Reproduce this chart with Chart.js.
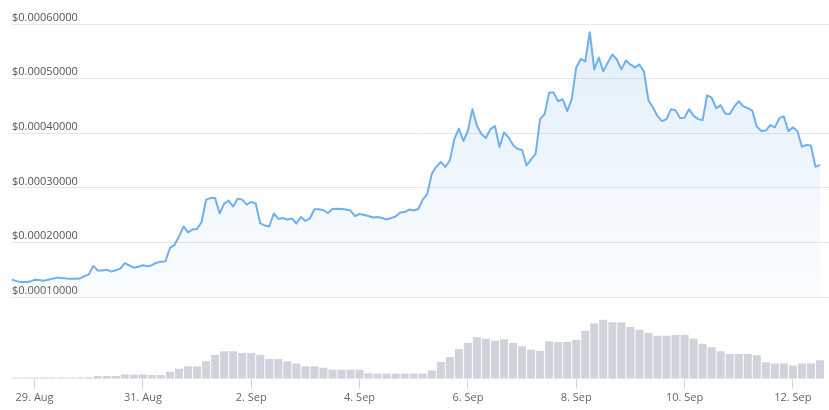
<!DOCTYPE html>
<html>
<head>
<meta charset="utf-8">
<script src="https://cdn.jsdelivr.net/npm/chart.js@4.4.1/dist/chart.umd.min.js"></script>
<style>
  html, body { margin: 0; padding: 0; background: #fff; }
  #wrap { width: 829px; height: 410px; position: relative; }
</style>
</head>
<body>
<div id="wrap"><canvas id="chart"></canvas></div>
<script>
// time is in hours since 29 Aug 00:00
const priceStart = -10;
const priceStep = 2;
// price in units of 0.00001 USD, one reading every 2 hours
const price = [
  13.20, 12.96, 12.78, 12.78, 12.87, 13.20, 13.15, 13.02, 13.20, 13.38,
  13.60, 13.55, 13.45, 13.38, 13.38, 13.42, 13.87, 14.15, 15.75, 14.91,
  14.91, 15.05, 14.69, 14.96, 15.24, 16.24, 15.82, 15.42, 15.60, 15.87,
  15.69, 15.87, 16.33, 16.51, 16.60, 19.05, 19.60, 21.15, 22.96, 21.87,
  22.42, 22.51, 23.78, 27.87, 28.15, 28.18, 25.33, 27.15, 27.69, 26.60,
  28.05, 27.87, 26.96, 27.45, 27.15, 23.51, 23.15, 22.96, 25.33, 24.33,
  24.51, 24.24, 24.42, 23.51, 24.69, 23.96, 24.42, 26.11, 26.11, 25.93,
  25.42, 26.15, 26.18, 26.15, 26.05, 25.87, 24.87, 25.24, 25.05, 24.87,
  24.60, 24.69, 24.51, 24.24, 24.51, 24.78, 25.51, 25.60, 26.05, 25.87,
  26.15, 27.87, 28.87, 32.60, 33.87, 34.78, 33.87, 35.02, 38.96, 40.87,
  38.60, 40.42, 44.42, 41.38, 39.87, 39.15, 40.78, 41.33, 37.51, 40.15,
  39.27, 37.87, 37.15, 36.96, 34.11, 35.24, 36.24, 42.60, 43.51, 47.45,
  47.45, 45.87, 46.24, 44.05, 46.24, 52.05, 53.60, 53.15, 58.51, 51.69,
  53.87, 51.33, 52.96, 54.42, 53.51, 51.69, 53.33, 52.60, 52.05, 52.60,
  51.33, 46.05, 44.73, 43.15, 42.24, 42.60, 44.42, 44.24, 42.78, 42.87,
  44.42, 43.24, 42.60, 42.42, 46.96, 46.51, 44.60, 45.15, 43.64, 43.51,
  44.87, 45.87, 44.96, 44.60, 44.15, 41.24, 40.42, 40.51, 41.51, 41.09,
  42.78, 43.09, 40.42, 41.09, 40.42, 37.56, 37.87, 37.78, 33.87, 34.24
];

const volumeStart = -8;
const volumeStep = 4;
// relative traded volume, one bar every 4 hours
const volume = [
  1.3, 1.3, 1.3, 1.3, 1.3, 1.3, 1.3, 1.3, 1.5, 2.7,
  2.7, 2.7, 4.3, 4.3, 4.3, 3.8, 3.8, 7.0, 10.0, 12.7,
  12.7, 17.7, 24.0, 27.7, 27.7, 26.0, 26.0, 24.0, 20.0, 20.0,
  17.7, 15.3, 12.7, 12.7, 11.0, 9.0, 9.0, 9.0, 9.0, 5.5,
  5.0, 5.0, 5.0, 5.0, 5.0, 5.0, 8.3, 17.0, 22.0, 30.0,
  36.0, 41.7, 40.3, 38.3, 39.7, 36.0, 32.7, 29.3, 28.0, 37.7,
  37.0, 37.0, 39.3, 48.3, 56.0, 59.3, 57.0, 57.0, 52.0, 49.3,
  46.0, 43.3, 43.3, 44.3, 44.3, 40.3, 35.3, 31.7, 27.7, 25.0,
  25.0, 25.0, 23.7, 16.7, 15.3, 15.3, 13.3, 15.3, 15.3, 18.7
];

const xTickHours = [0, 48, 96, 144, 192, 240, 288, 336];
const xTickLabels = ['29. Aug', '31. Aug', '2. Sep', '4. Sep', '6. Sep', '8. Sep', '10. Sep', '12. Sep'];
const yTicks = [0.0001, 0.0002, 0.0003, 0.0004, 0.0005, 0.0006];

const priceData = price.map((p, i) => ({ x: priceStart + i * priceStep, y: p * 1e-5 }));
const volumeData = volume.map((v, i) => ({ x: volumeStart + i * volumeStep, y: v }));

const ctx = document.getElementById('chart').getContext('2d');

new Chart(ctx, {
  data: {
    datasets: [
      {
        type: 'line',
        label: 'Price',
        data: priceData,
        yAxisID: 'y',
        order: 0,
        borderColor: '#70b0ec',
        borderWidth: 2,
        borderJoinStyle: 'round',
        pointRadius: 0,
        tension: 0,
        fill: { value: 0.0001 },
        backgroundColor: (c) => {
          const chart = c.chart;
          if (!chart.chartArea) return 'rgba(124,181,236,0.1)';
          const top = chart.scales.y.getPixelForValue(0.0006);
          const bottom = chart.scales.y.getPixelForValue(0.0001);
          const g = chart.ctx.createLinearGradient(0, top, 0, bottom);
          g.addColorStop(0, 'rgba(124,181,236,0.22)');
          g.addColorStop(1, 'rgba(124,181,236,0.03)');
          return g;
        },
      },
      {
        type: 'bar',
        label: 'Volume',
        data: volumeData,
        yAxisID: 'yv',
        order: 1,
        backgroundColor: '#d0d3db',
        borderWidth: 0,
        barPercentage: 1,
        categoryPercentage: 0.89,
      }
    ]
  },
  options: {
    responsive: true,
    maintainAspectRatio: false,
    animation: false,
    layout: { padding: { left: 12, right: 0, top: 24, bottom: 4 } },
    plugins: {
      legend: { display: false },
      tooltip: { enabled: false },
    },
    scales: {
      x: {
        type: 'linear',
        offset: false,
        min: -10,
        max: 352,
        afterBuildTicks: (axis) => { axis.ticks = xTickHours.map(v => ({ value: v })); },
        ticks: {
          callback: (v, i) => xTickLabels[i],
          autoSkip: false,
          maxRotation: 0,
          padding: 2,
          color: '#666',
          font: { family: 'Open Sans', size: 11 },
        },
        grid: {
          offset: false,
          drawOnChartArea: false,
          drawTicks: true,
          tickLength: 10,
          tickColor: '#ccd6eb',
          color: '#ccd6eb',
        },
        border: { display: false },
      },
      y: {
        position: 'left',
        min: -0.0000491,
        max: 0.0006,
        afterBuildTicks: (axis) => { axis.ticks = yTicks.map(v => ({ value: v })); },
        ticks: {
          mirror: true,
          padding: 0,
          labelOffset: -6.5,
          color: '#555',
          font: { family: 'Open Sans', size: 11 },
          callback: (v) => '$' + Number(v).toFixed(8),
        },
        grid: { color: '#e6e6e6', drawTicks: false },
        border: { display: false },
      },
      yv: {
        display: false,
        min: 0,
        max: 357,
      },
    },
  },
});
</script>
</body>
</html>
